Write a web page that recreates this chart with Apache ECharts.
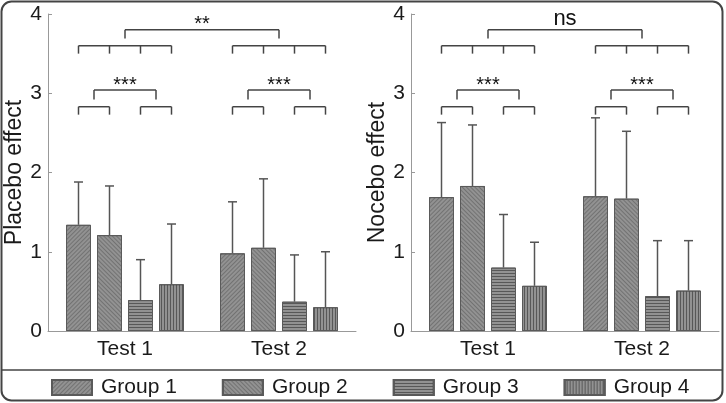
<!DOCTYPE html>
<html>
<head>
    <meta charset="UTF-8">
    <title>Placebo / Nocebo effect</title>
    <script src="https://cdn.jsdelivr.net/npm/echarts@6/dist/echarts.min.js"></script>
    <style>
        html, body { margin: 0; padding: 0; background: #fff; }
        #chart { width: 726px; height: 403px; }
    </style>
</head>
<body>
    <div id="chart"></div>
    <script>
        // categories
        const tests = ['Test 1', 'Test 2'];
        const groups = ['Group 1', 'Group 2', 'Group 3', 'Group 4'];

        // placebo panel: mean per group (Test 1, Test 2) and SD (upper error bar)
        const placeboMean = [[1.34, 0.98], [1.21, 1.05], [0.39, 0.37], [0.59, 0.30]];
        const placeboSD = [[0.54, 0.65], [0.62, 0.87], [0.51, 0.59], [0.76, 0.70]];
        // nocebo panel
        const noceboMean = [[1.69, 1.70], [1.83, 1.67], [0.80, 0.44], [0.57, 0.51]];
        const noceboSD = [[0.94, 0.99], [0.77, 0.85], [0.67, 0.70], [0.55, 0.63]];

        // significance labels
        const placeboBetween = '**';
        const placeboWithin = ['***', '***'];
        const noceboBetween = 'ns';
        const noceboWithin = ['***', '***'];

        const yTicks = [0, 1, 2, 3, 4];

        const FONT = '"Liberation Sans", Arial, sans-serif';
        const BAR_W = 25;
        const BAR_STEP = 31;   // bar width + gap in px

        const decals = [
            { symbol: 'rect', symbolSize: 1, dashArrayX: [1, 0], dashArrayY: [1, 1.5], rotation: -Math.PI / 4, color: 'rgba(40,40,40,0.3)' },
            { symbol: 'rect', symbolSize: 1, dashArrayX: [1, 0], dashArrayY: [1, 1.5], rotation: Math.PI / 4, color: 'rgba(40,40,40,0.3)' },
            { symbol: 'rect', symbolSize: 1, dashArrayX: [1, 0], dashArrayY: [1, 2], rotation: 0, color: 'rgba(40,40,40,0.55)' },
            { symbol: 'rect', symbolSize: 1, dashArrayX: [1, 0], dashArrayY: [1, 2], rotation: Math.PI / 2, color: 'rgba(40,40,40,0.55)' }
        ];

        const chart = echarts.init(document.getElementById('chart'));

        function lineEl(x1, y1, x2, y2) {
            return {
                type: 'line',
                shape: { x1: x1, y1: y1, x2: x2, y2: y2 },
                style: { stroke: '#444', lineWidth: 1.5 }
            };
        }

        // bar centre in px for category c and group g
        function barX(api, c, g) {
            return api.coord([c, 0])[0] + (g - 1.5) * BAR_STEP;
        }

        function bracketSeries(gridIdx, between, within) {
            return {
                type: 'custom',
                xAxisIndex: gridIdx,
                yAxisIndex: gridIdx,
                silent: true,
                data: [[0, 0]],
                renderItem: function (params, api) {
                    const Y = v => api.coord([0, v])[1];
                    const kids = [];
                    const txt = (s, x, yLine) => ({
                        type: 'text',
                        x: x,
                        y: yLine - (s.indexOf('*') >= 0 ? 5 : 11),
                        style: {
                            text: s, textAlign: 'center', textVerticalAlign: 'middle',
                            fontSize: s.indexOf('*') >= 0 ? 20 : 22, fontFamily: FONT, fill: '#111'
                        }
                    });
                    tests.forEach((t, c) => {
                        const xs = groups.map((g, gi) => barX(api, c, gi));
                        // pair brackets
                        [[0, 1], [2, 3]].forEach(p => {
                            kids.push(lineEl(xs[p[0]], Y(2.83), xs[p[1]], Y(2.83)));
                            kids.push(lineEl(xs[p[0]], Y(2.83), xs[p[0]], Y(2.73)));
                            kids.push(lineEl(xs[p[1]], Y(2.83), xs[p[1]], Y(2.73)));
                        });
                        // pair-of-pairs bracket
                        const m1 = (xs[0] + xs[1]) / 2, m2 = (xs[2] + xs[3]) / 2;
                        kids.push(lineEl(m1, Y(3.04), m2, Y(3.04)));
                        kids.push(lineEl(m1, Y(3.04), m1, Y(2.92)));
                        kids.push(lineEl(m2, Y(3.04), m2, Y(2.92)));
                        kids.push(txt(within[c], (m1 + m2) / 2, Y(3.04)));
                        // comb across the four bars
                        kids.push(lineEl(xs[0], Y(3.6), xs[3], Y(3.6)));
                        xs.forEach(x => kids.push(lineEl(x, Y(3.6), x, Y(3.5))));
                    });
                    // between tests
                    const c1 = api.coord([0, 0])[0], c2 = api.coord([1, 0])[0];
                    kids.push(lineEl(c1, Y(3.8), c2, Y(3.8)));
                    kids.push(lineEl(c1, Y(3.8), c1, Y(3.69)));
                    kids.push(lineEl(c2, Y(3.8), c2, Y(3.69)));
                    kids.push(txt(between, (c1 + c2) / 2, Y(3.8)));
                    return { type: 'group', children: kids };
                }
            };
        }

        function errorSeries(gridIdx, mean, sd, g) {
            return {
                type: 'custom',
                name: 'err' + g,
                xAxisIndex: gridIdx,
                yAxisIndex: gridIdx,
                silent: true,
                z: 1,
                data: mean.map((m, i) => [i, m, m + sd[i]]),
                renderItem: function (params, api) {
                    const c = api.value(0);
                    const x = barX(api, c, g);
                    const y0 = api.coord([c, api.value(1)])[1];
                    const y1 = api.coord([c, api.value(2)])[1];
                    return {
                        type: 'group',
                        children: [
                            { type: 'line', shape: { x1: x, y1: y0, x2: x, y2: y1 }, style: { stroke: '#555', lineWidth: 1.5 } },
                            { type: 'line', shape: { x1: x - 4.5, y1: y1, x2: x + 4.5, y2: y1 }, style: { stroke: '#555', lineWidth: 1.5 } }
                        ]
                    };
                }
            };
        }

        function barSeries(gridIdx, mean) {
            return groups.map((name, g) => ({
                name: name,
                type: 'bar',
                xAxisIndex: gridIdx,
                yAxisIndex: gridIdx,
                barWidth: BAR_W,
                barGap: '24%',
                z: 2,
                data: mean[g],
                itemStyle: {
                    color: '#929292',
                    borderColor: '#5a5a5a',
                    borderWidth: 1,
                    decal: decals[g]
                }
            }));
        }

        function xAxis(gridIdx) {
            return {
                type: 'category',
                gridIndex: gridIdx,
                data: tests,
                axisTick: { show: false },
                axisLine: { lineStyle: { color: '#999', width: 1 } },
                axisLabel: { fontSize: 21, fontFamily: FONT, color: '#1a1a1a', margin: 8 }
            };
        }

        function yAxis(gridIdx, name) {
            return {
                type: 'value',
                gridIndex: gridIdx,
                min: yTicks[0],
                max: yTicks[yTicks.length - 1],
                interval: 1,
                name: name,
                nameLocation: 'middle',
                nameGap: 22,
                nameTextStyle: { fontSize: 23, fontFamily: FONT, color: '#1a1a1a' },
                splitLine: { show: false },
                axisLine: { show: true, lineStyle: { color: '#999', width: 1 } },
                axisTick: { show: true, inside: true, length: 4, lineStyle: { color: '#999' } },
                axisLabel: { fontSize: 21, fontFamily: FONT, color: '#1a1a1a', margin: 6 }
            };
        }

        const option = {
            animation: false,
            textStyle: { fontFamily: FONT },
            grid: [
                { left: 48, top: 14, width: 308, height: 317 },
                { left: 411, top: 14, width: 308, height: 317 }
            ],
            xAxis: [xAxis(0), xAxis(1)],
            yAxis: [yAxis(0, 'Placebo effect'), yAxis(1, 'Nocebo effect')],
            legend: {
                data: groups,
                left: 51,
                top: 377,
                padding: 0,
                icon: 'rect',
                itemWidth: 40,
                itemHeight: 15,
                itemGap: 45,
                textStyle: { fontSize: 21, fontFamily: FONT, color: '#1a1a1a', padding: [0, 0, 0, 4] }
            },
            graphic: [
                {
                    type: 'rect',
                    shape: { x: 1.5, y: 1.5, width: 721, height: 399, r: 10 },
                    style: { fill: 'none', stroke: '#444', lineWidth: 2 },
                    silent: true
                },
                {
                    type: 'line',
                    shape: { x1: 1.5, y1: 370, x2: 722.5, y2: 370 },
                    style: { stroke: '#444', lineWidth: 1.5 },
                    silent: true
                }
            ],
            series: [].concat(
                barSeries(0, placeboMean),
                barSeries(1, noceboMean),
                groups.map((n, g) => errorSeries(0, placeboMean[g], placeboSD[g], g)),
                groups.map((n, g) => errorSeries(1, noceboMean[g], noceboSD[g], g)),
                [bracketSeries(0, placeboBetween, placeboWithin), bracketSeries(1, noceboBetween, noceboWithin)]
            )
        };

        chart.setOption(option);
        window.addEventListener('resize', function () { chart.resize(); });
    </script>
</body>
</html>
